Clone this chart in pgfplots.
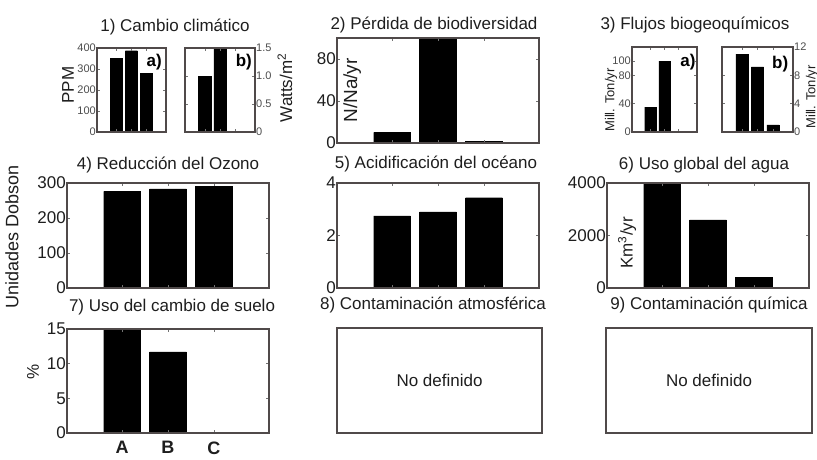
\documentclass[border=0pt]{standalone}
\usepackage{pgfplots}
\pgfplotsset{compat=1.18}
\usepackage{fontspec}
\setmainfont{Liberation Sans}
\definecolor{frame}{RGB}{80,74,74}
\definecolor{txt}{RGB}{30,30,30}
\pgfplotsset{
  panel/.style={
    scale only axis, anchor=south west, ybar, bar width=0.8,
    xmin=-0.2, xmax=4.2, ymin=0, xtick={1,2,3}, xticklabels={},
    axis on top,
    axis line style={frame, line width=1.2pt},
    tick style={black!55, line width=0.4pt},
    major tick length=3pt, tick align=inside,
    /pgf/number format/assume math mode=true,
    /pgf/number format/1000 sep={},
    scaled y ticks=false,
    ticklabel style={font=\fontsize{17}{17}\selectfont, text=txt},
    yticklabel style={inner sep=1pt},
    cycle list={{fill=black, draw=none}},
  },
  small/.style={panel, xmin=-0.3, xmax=4.3,
    ticklabel style={font=\fontsize{11}{11}\selectfont, text=black!70}},
  empty/.style={scale only axis, anchor=south west, xmin=0, xmax=1, ymin=0, ymax=1,
    xtick=\empty, ytick=\empty, axis line style={frame, line width=1.2pt}},
}
\newcommand{\T}{\fontsize{17}{17}\selectfont}
\begin{document}
\begin{tikzpicture}[x=1pt,y=1pt]
\useasboundingbox (0,0) rectangle (817,459);
% Titles
\begin{scope}[every node/.style={font=\T, text=txt, inner sep=0pt}]
\node at (175,432) {1) Cambio climático};
\node at (434,434) {2) Pérdida de biodiversidad};
\node at (695,434) {3) Flujos biogeoquímicos};
\node at (168,294) {4) Reducción del Ozono};
\node at (436,295) {5) Acidificación del océano};
\node at (704,294) {6) Uso global del agua};
\node at (172,152) {7) Uso del cambio de suelo};
\node at (433,154) {8) Contaminación atmosférica};
\node at (709,154) {9) Contaminación química};
\node[rotate=90] at (68,374) {PPM};
\node[rotate=90] at (285,371) {Watts/m\textsuperscript{2}};
\node[rotate=90, font=\fontsize{18}{18}\selectfont] at (12,222) {Unidades Dobson};
\node[rotate=90] at (33,87) {\%};
\node[rotate=90, font=\fontsize{13}{13}\selectfont] at (611,359) {Mill. Ton/yr};
\node[rotate=90, font=\fontsize{13}{13}\selectfont] at (812,362) {Mill. Ton/yr};
\end{scope}

% 1a
\begin{axis}[small, at={(97pt,327pt)}, width=69pt, height=84pt, ymax=400,
  ytick={0,100,200,300,400}]
\addplot coordinates {(1,350) (2,387) (3,280)};
\node[font=\bfseries\T] at (rel axis cs:0.83,0.83) {a)};
\end{axis}
% 1b
\begin{axis}[small, at={(185pt,327pt)}, width=70pt, height=84pt, ymax=1.5,
  ytick={0,0.5,1,1.5}, yticklabels={0,0.5,1.0,1.5}, yticklabel pos=right]
\addplot coordinates {(1,1.0) (2,1.5)};
\node[font=\bfseries\T] at (rel axis cs:0.84,0.83) {b)};
\end{axis}
% 2
\begin{axis}[panel, at={(337pt,316pt)}, width=202pt, height=105pt, ymax=100,
  ytick={0,40,80}]
\addplot coordinates {(1,10) (2,100) (3,1.5)};
\node[rotate=90, font=\fontsize{19}{19}\selectfont, text=txt] at (rel axis cs:0.075,0.5) {N/Na/yr};
\end{axis}
% 3a
\begin{axis}[small, at={(632pt,327pt)}, width=65pt, height=85pt, ymax=120,
  ytick={0,40,80,100}]
\addplot coordinates {(1,35) (2,100)};
\node[font=\bfseries\T] at (rel axis cs:0.86,0.82) {a)};
\end{axis}
% 3b
\begin{axis}[small, at={(722pt,327pt)}, width=71pt, height=85pt, ymax=12,
  ytick={0,4,8,12}, yticklabel pos=right]
\addplot coordinates {(1,11) (2,9.2) (3,1)};
\node[font=\bfseries\T] at (rel axis cs:0.82,0.80) {b)};
\end{axis}
% 4
\begin{axis}[panel, at={(67pt,171pt)}, width=202pt, height=105pt, ymax=300,
  ytick={0,100,200,300}]
\addplot coordinates {(1,276) (2,283) (3,290)};
\end{axis}
% 5
\begin{axis}[panel, at={(337pt,171pt)}, width=202pt, height=105pt, ymax=4,
  ytick={0,2,4}]
\addplot coordinates {(1,2.75) (2,2.9) (3,3.44)};
\end{axis}
% 6
\begin{axis}[panel, at={(607pt,171pt)}, width=202pt, height=105pt, ymax=4000,
  ytick={0,2000,4000}]
\addplot coordinates {(1,4000) (2,2600) (3,415)};
\node[rotate=90, font=\T, text=txt] at (rel axis cs:0.1,0.43) {Km\textsuperscript{3}/yr};
\end{axis}
% 7
\begin{axis}[panel, at={(67pt,26pt)}, width=202pt, height=104pt, ymax=15,
  ytick={0,5,10,15}, xticklabels={A,B,C},
  xticklabel style={font=\bfseries\fontsize{18}{18}\selectfont, yshift=-5pt}]
\addplot coordinates {(1,15) (2,11.7) (3,0)};
\end{axis}
% 8
\begin{axis}[empty, at={(337pt,26pt)}, width=205pt, height=105pt]
\node[font=\T, text=txt] at (rel axis cs:0.5,0.5) {No definido};
\end{axis}
% 9
\begin{axis}[empty, at={(606pt,26pt)}, width=206pt, height=105pt]
\node[font=\T, text=txt] at (rel axis cs:0.5,0.5) {No definido};
\end{axis}
\end{tikzpicture}
\end{document}
